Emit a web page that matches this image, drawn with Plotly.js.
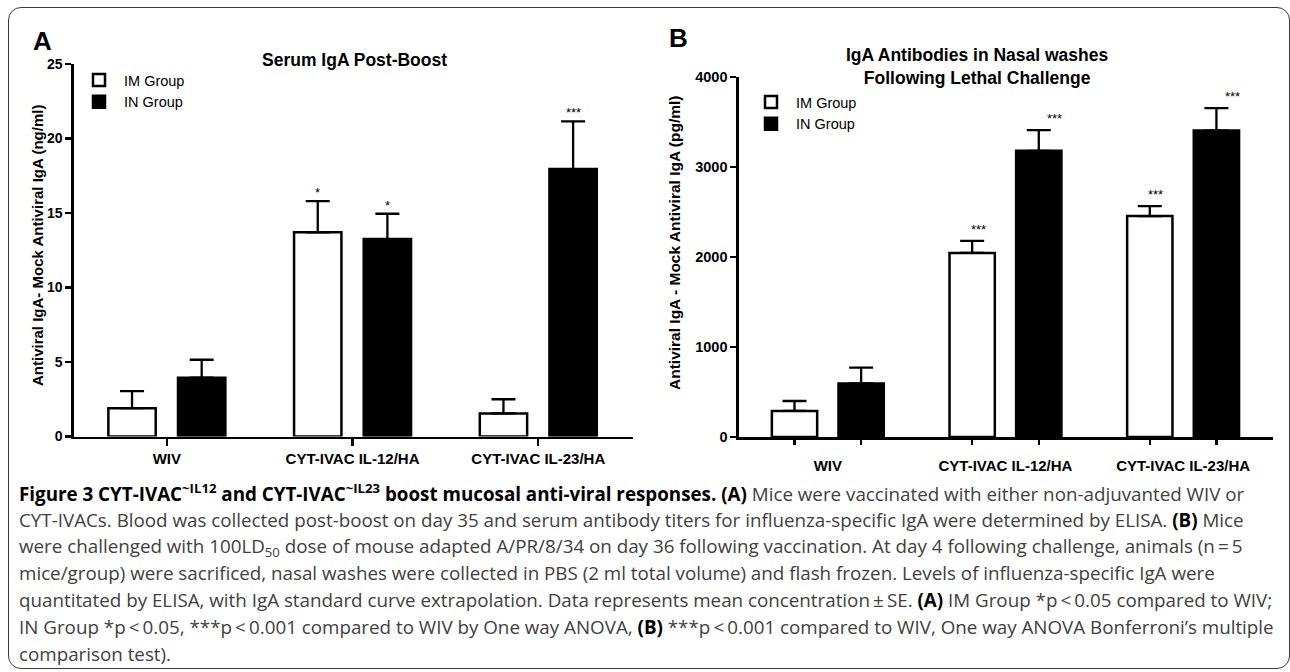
<!DOCTYPE html>
<html><head><meta charset="utf-8">
<script src="https://cdn.plot.ly/plotly-3.0.1.min.js"></script>
<style>
html,body{margin:0;padding:0;background:#fff;overflow:hidden;}
#chart{width:1290px;height:672px;position:absolute;left:0;top:0;}
#frame{position:absolute;left:8px;top:7px;width:1282px;height:662px;border:1.6px solid #3a3a3a;border-radius:13px;pointer-events:none;box-sizing:border-box;}
</style></head><body>
<div id="chart"></div><div id="frame"></div>
<script>
// ---------- data ----------
const categories = ['WIV', 'CYT-IVAC IL-12/HA', 'CYT-IVAC IL-23/HA'];
const seriesNames = ['IM Group', 'IN Group'];

// Panel A: Serum IgA post-boost (ng/ml)
const serumIM = [1.9, 13.7, 1.55];
const serumIMErr = [1.15, 2.1, 0.95];
const serumIN = [3.95, 13.25, 17.95];
const serumINErr = [1.2, 1.7, 3.2];
const serumIMSig = ['', '*', ''];
const serumINSig = ['', '*', '***'];
const serumTicks = [0, 5, 10, 15, 20, 25];

// Panel B: Nasal wash IgA after challenge (pg/ml)
const nasalIM = [290, 2045, 2455];
const nasalIMErr = [110, 135, 110];
const nasalIN = [595, 3180, 3405];
const nasalINErr = [175, 230, 250];
const nasalIMSig = ['', '***', '***'];
const nasalINSig = ['', '***', '***'];
const nasalTicks = [0, 1000, 2000, 3000, 4000];

const captionLines = [
  '<span style="color:#000"><b>Figure 3 CYT-IVAC<sup>~IL12</sup> and CYT-IVAC<sup>~IL23</sup> boost mucosal anti-viral responses. (A)</b></span> Mice were vaccinated with either non-adjuvanted WIV or',
  'CYT-IVACs. Blood was collected post-boost on day 35 and serum antibody titers for influenza-specific IgA were determined by ELISA. <span style="color:#000"><b>(B)</b></span> Mice',
  'were challenged with 100LD<sub>50</sub> dose of mouse adapted A/PR/8/34 on day 36 following vaccination. At day 4 following challenge, animals (n\u2009=\u20095',
  'mice/group) were sacrificed, nasal washes were collected in PBS (2 ml total volume) and flash frozen. Levels of influenza-specific IgA were',
  'quantitated by ELISA, with IgA standard curve extrapolation. Data represents mean concentration\u2009\u00b1\u2009SE. <span style="color:#000"><b>(A)</b></span> IM Group *p\u2009<\u20090.05 compared to WIV;',
  'IN Group *p\u2009<\u20090.05, ***p\u2009<\u20090.001 compared to WIV by One way ANOVA, <span style="color:#000"><b>(B)</b></span> ***p\u2009<\u20090.001 compared to WIV, One way ANOVA Bonferroni\u2019s multiple',
  'comparison test).'
];

// ---------- styling ----------
const W = 1290, H = 672;
const px = v => v / W, py = v => 1 - v / H;
const FONT = 'Liberation Sans, Arial, Helvetica, sans-serif';
const bargap = 0.25, bargroupgap = 0.32;
const off = (1 - bargap) / 4;

function barTrace(name, y, err, fill, xa, ya, legend) {
  return {
    type: 'bar', name: name, x: categories, y: y, xaxis: xa, yaxis: ya, legend: legend,
    marker: {color: fill, line: {color: '#000', width: 2.5}},
    error_y: {type: 'data', symmetric: false, array: err, arrayminus: err.map(() => 0),
              color: '#000', thickness: 2.3, width: 12}
  };
}

const traces = [
  barTrace(seriesNames[0], serumIM, serumIMErr, '#fff', 'x', 'y', 'legend'),
  barTrace(seriesNames[1], serumIN, serumINErr, '#000', 'x', 'y', 'legend'),
  barTrace(seriesNames[0], nasalIM, nasalIMErr, '#fff', 'x2', 'y2', 'legend2'),
  barTrace(seriesNames[1], nasalIN, nasalINErr, '#000', 'x2', 'y2', 'legend2'),
  {type: 'scatter', x: [], y: [], xaxis: 'x3', yaxis: 'y2', showlegend: false}
];

function starAnns(sig, vals, errs, sign, xa, ya, xshift, yshift) {
  const out = [];
  sig.forEach((s, i) => {
    if (!s) return;
    out.push({xref: xa, yref: ya, x: i + sign * off, y: vals[i] + errs[i], text: s,
      showarrow: false, xanchor: 'center', yanchor: 'bottom', xshift: xshift, yshift: yshift,
      font: {family: FONT, size: 13, color: '#000'}});
  });
  return out;
}

function paperText(x, y, text, font, extra) {
  return Object.assign({xref: 'paper', yref: 'paper', x: px(x), y: py(y), text: text,
    showarrow: false, xanchor: 'center', yanchor: 'middle', font: font}, extra || {});
}

const catFont = {family: FONT, size: 15, color: '#000', weight: 'bold'};
const capFont = {family: 'Open Sans, Noto Sans, sans-serif', size: 18.8, color: '#404040'};

const annotations = [
  paperText(42, 41, 'A', {family: FONT, size: 26, color: '#000', weight: 'bold'}),
  paperText(678, 38, 'B', {family: FONT, size: 26, color: '#000', weight: 'bold'}),
  paperText(354, 60, 'Serum IgA Post-Boost', {family: FONT, size: 17.5, color: '#000', weight: 'bold'}),
  paperText(978, 67, 'IgA Antibodies in Nasal washes<br>Following Lethal Challenge',
            {family: FONT, size: 17.5, color: '#000', weight: 'bold'}),
  paperText(37, 246, 'Antiviral IgA- Mock Antiviral IgA (ng/ml)',
            {family: FONT, size: 15, color: '#000', weight: 'bold'}, {textangle: -90}),
  paperText(675, 243, 'Antiviral IgA - Mock Antiviral IgA (pg/ml)',
            {family: FONT, size: 15.5, color: '#000', weight: 'bold'}, {textangle: -90})
];
captionLines.forEach((line, k) => {
  annotations.push(paperText(17, 493 + 26.8 * k, line, capFont, {xanchor: 'left', align: 'left'}));
});
annotations.push(...starAnns(serumIMSig, serumIM, serumIMErr, -1, 'x', 'y', 0, -1));
annotations.push(...starAnns(serumINSig, serumIN, serumINErr, 1, 'x', 'y', 0, -1));
annotations.push(...starAnns(nasalIMSig, nasalIM, nasalIMErr, -1, 'x2', 'y2', 6, 2));
annotations.push(...starAnns(nasalINSig, nasalIN, nasalINErr, 1, 'x2', 'y2', 16, 2));

const axLine = {showline: true, linecolor: '#000', linewidth: 2.6, showgrid: false, zeroline: false,
                fixedrange: true};

const layout = {
  width: W, height: H, autosize: false,
  margin: {l: 0, r: 0, t: 0, b: 0},
  paper_bgcolor: '#fff', plot_bgcolor: 'rgba(0,0,0,0)',
  barmode: 'group', bargap: bargap, bargroupgap: bargroupgap,
  showlegend: true,
  xaxis: Object.assign({}, axLine, {domain: [px(74), px(633)], anchor: 'y', type: 'category',
    range: [-0.5, 2.51], ticks: 'outside', ticklen: 7, tickwidth: 2.2, tickcolor: '#000',
    tickfont: catFont}),
  yaxis: Object.assign({}, axLine, {domain: [py(436.5), py(64)], anchor: 'x', range: [0, 25],
    tickvals: serumTicks, ticks: 'outside', ticklen: 6, tickwidth: 2.2, tickcolor: '#000',
    tickfont: {family: FONT, size: 14, color: '#000', weight: 'bold'}}),
  xaxis2: Object.assign({}, axLine, {domain: [px(739), px(1273)], anchor: 'y2', type: 'category',
    range: [-0.5, 2.506], ticks: 'outside', ticklen: 7, tickcolor: 'rgba(0,0,0,0)',
    ticklabelstandoff: 6, tickfont: catFont}),
  xaxis3: {overlaying: 'x2', anchor: 'y2', type: 'linear', range: [-0.5, 2.506],
    tickvals: categories.flatMap((c, i) => [i - off, i + off]),
    ticks: 'outside', ticklen: 7, tickwidth: 2.2, tickcolor: '#000',
    showticklabels: false, showline: false, showgrid: false, zeroline: false},
  yaxis2: Object.assign({}, axLine, {domain: [py(437), py(77)], anchor: 'x2', range: [0, 4000],
    tickvals: nasalTicks, ticks: 'outside', ticklen: 6, tickwidth: 2.2, tickcolor: '#000',
    tickfont: {family: FONT, size: 14.5, color: '#000', weight: 'bold'}}),
  legend: {x: px(74), y: py(64), xanchor: 'left', yanchor: 'top', bgcolor: 'rgba(0,0,0,0)',
    itemwidth: 40, font: {family: FONT, size: 14.5, color: '#000'}, tracegroupgap: 0},
  legend2: {x: px(746), y: py(86), xanchor: 'left', yanchor: 'top', bgcolor: 'rgba(0,0,0,0)',
    itemwidth: 40, font: {family: FONT, size: 14.5, color: '#000'}, tracegroupgap: 0},
  annotations: annotations
};

Plotly.newPlot('chart', traces, layout, {staticPlot: true, displayModeBar: false});
</script>
</body></html>
